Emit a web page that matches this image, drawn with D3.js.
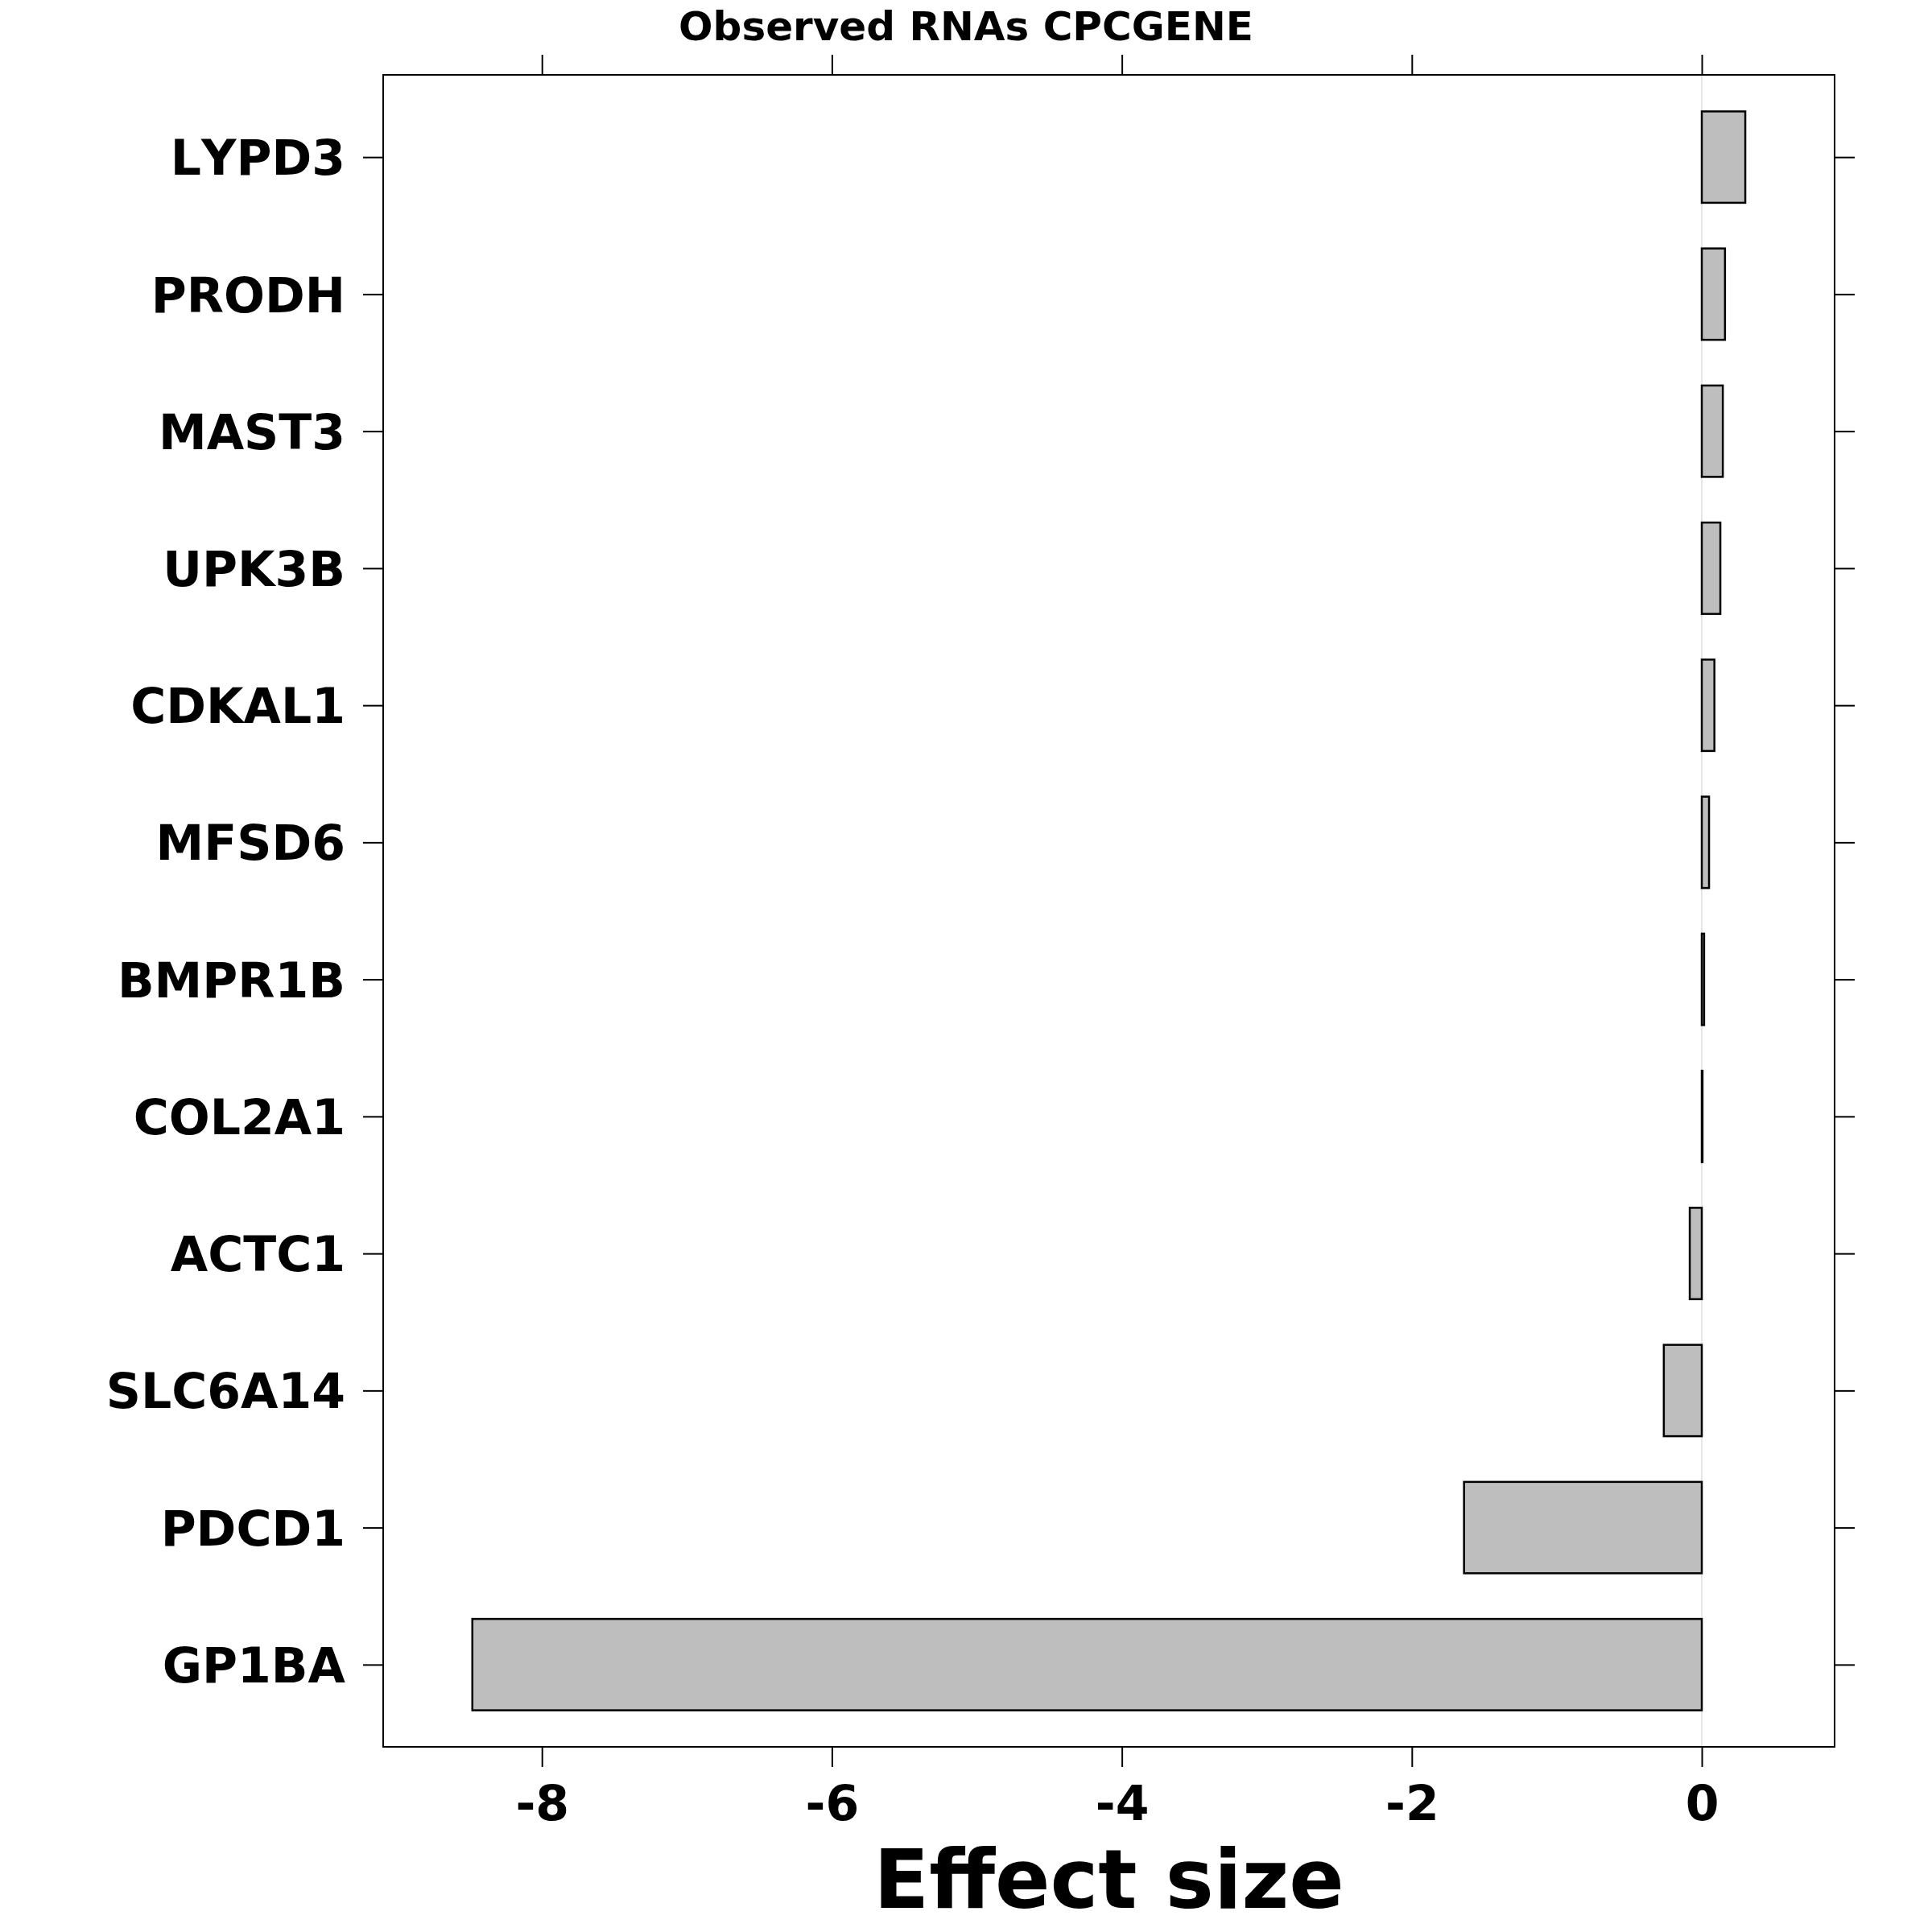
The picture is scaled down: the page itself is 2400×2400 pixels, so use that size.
<!DOCTYPE html>
<html>
<head>
<meta charset="utf-8">
<script src="https://cdn.jsdelivr.net/npm/d3@7"></script>
<style>
  body { margin: 0; background: #ffffff; }
  text { font-family: "DejaVu Sans", sans-serif; font-weight: bold; font-kerning: none; }
</style>
</head>
<body>
<div id="chart"></div>
<script>
// genes, top to bottom as drawn
let genes = ['LYPD3', 'PRODH', 'MAST3', 'UPK3B', 'CDKAL1', 'MFSD6',
             'BMPR1B', 'COL2A1', 'ACTC1', 'SLC6A14', 'PDCD1', 'GP1BA'];
let effects = [0.30, 0.16, 0.145, 0.128, 0.087, 0.05,
               0.016, 0.005, -0.083, -0.262, -1.64, -8.48];
let xTicks = [-8, -6, -4, -2, 0];
let xDomain = [-9.095, 0.916];

let props = { width: 2400, height: 2400 };
let margin = { top: 93, right: 121, bottom: 230, left: 476 },
    width = props.width - margin.left - margin.right,
    height = props.height - margin.top - margin.bottom;

let svg = d3.select('#chart').append('svg')
            .attr('width', props.width)
            .attr('height', props.height);

svg.append('rect')
    .attr('width', props.width)
    .attr('height', props.height)
    .attr('fill', '#ffffff');

let g = svg.append('g')
    .attr('transform', 'translate(' + margin.left + ',' + margin.top + ')');

let x = d3.scaleLinear().domain(xDomain).range([0, width]);
let y = d3.scalePoint().domain(genes).range([0, height]).padding(0.6);
let barH = y.step() * 2 / 3;

// reference line at zero
g.append('line')
    .attr('x1', x(0)).attr('x2', x(0))
    .attr('y1', 0).attr('y2', height)
    .attr('stroke', '#e6e6e6')
    .attr('stroke-width', 2);

g.selectAll('.bar')
    .data(genes.map(function (d, i) { return { gene: d, value: effects[i] }; }))
    .enter().append('rect')
    .attr('class', 'bar')
    .attr('x', function (d) { return x(Math.min(0, d.value)); })
    .attr('width', function (d) { return Math.abs(x(d.value) - x(0)); })
    .attr('y', function (d) { return y(d.gene) - barH / 2; })
    .attr('height', barH)
    .attr('fill', '#bebebe')
    .attr('stroke', '#000000')
    .attr('stroke-width', 2.5);

// frame
g.append('rect')
    .attr('width', width)
    .attr('height', height)
    .attr('fill', 'none')
    .attr('stroke', '#000000')
    .attr('stroke-width', 2);

function styleAxis(sel, size) {
    sel.select('.domain').remove();
    sel.selectAll('.tick line').attr('stroke', '#000000').attr('stroke-width', 2);
    sel.selectAll('.tick text').attr('fill', '#000000').style('font-size', size + 'px');
}

g.append('g')
    .call(d3.axisLeft(y).tickSize(25).tickSizeOuter(0).tickPadding(22))
    .call(styleAxis, 60)
    .selectAll('.tick text').attr('dy', '0.36em');

g.append('g')
    .attr('transform', 'translate(' + width + ',0)')
    .call(d3.axisRight(y).tickSize(25).tickSizeOuter(0).tickFormat(''))
    .call(styleAxis, 60);

g.append('g')
    .attr('transform', 'translate(0,' + height + ')')
    .call(d3.axisBottom(x).tickValues(xTicks).tickSize(25).tickSizeOuter(0).tickPadding(23)
          .tickFormat(function (d) { return d3.format('d')(d).replace('\u2212', '-'); }))
    .call(styleAxis, 60);

g.append('g')
    .call(d3.axisTop(x).tickValues(xTicks).tickSize(25).tickSizeOuter(0).tickFormat(''))
    .call(styleAxis, 60);

svg.append('text')
    .attr('x', props.width / 2)
    .attr('y', 50)
    .attr('text-anchor', 'middle')
    .style('font-size', '50px')
    .text('Observed RNAs CPCGENE');

svg.append('text')
    .attr('x', margin.left + width / 2)
    .attr('y', 2370)
    .attr('text-anchor', 'middle')
    .style('font-size', '101px')
    .text('Effect size');
</script>
</body>
</html>
